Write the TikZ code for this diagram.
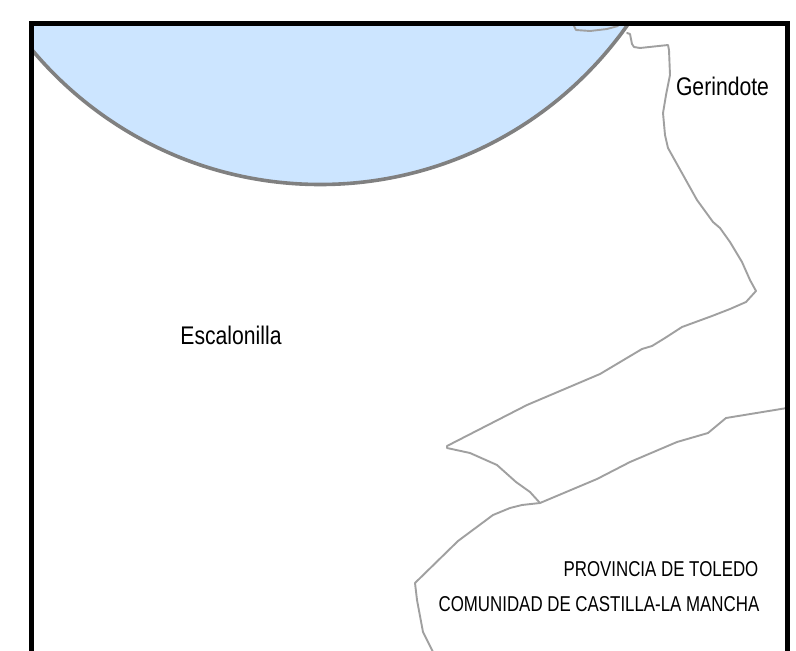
\documentclass[tikz,border=0pt]{standalone}
\usepackage{fontspec}
\setmainfont{Liberation Sans}
\definecolor{lake}{HTML}{CCE5FF}
\definecolor{lakeedge}{HTML}{808080}
\definecolor{limit}{HTML}{A0A0A0}
\tikzset{
  limitline/.style={draw=limit,line width=1.9pt,line join=round,line cap=round},
  lakeline/.style={draw=lakeedge,fill=lake,line width=3.6pt},
  framebar/.style={draw=black,line width=5pt},
  placelabel/.style={inner sep=0pt,text=black,font=\fontsize{25.5}{25.5}\selectfont,xscale=0.83},
  admlabel/.style={inner sep=0pt,text=black,font=\fontsize{21.5}{21.5}\selectfont,xscale=0.785,anchor=east}
}
\begin{document}
\begin{tikzpicture}[x=1pt,y=-1pt]
\useasboundingbox (0,0) rectangle (796,651);
\fill[white] (0,0) rectangle (796,651);
\begin{scope}
\clip (31,24) rectangle (787,651);
\draw[lakeline] (320.2,-191.2) circle [radius=375.7];
\draw[limitline] (574,26) -- (576,30) -- (590,31) -- (607,29) -- (618,26);
\draw[limitline] (627,33) -- (630,34) -- (632,44) -- (634,47) -- (640,48) -- (668,45) -- (669,50) -- (670,75) -- (666,95) -- (663,113) -- (665,135) -- (668,148) -- (697,200) -- (713,222) -- (720,228) -- (730,242) -- (742,262) -- (750,280) -- (756,291) -- (746,302) -- (730,309) -- (712,316) -- (682,327) -- (665,338) -- (652,346) -- (642,349) -- (600,374) -- (527,405) -- (447,446) -- (447,448) -- (470,453) -- (497,465) -- (516,482) -- (530,492) -- (540,503);
\draw[limitline] (787,408) -- (726,418) -- (708,433) -- (677,442) -- (630,462) -- (597,479) -- (540,503) -- (522,505) -- (510,508) -- (493,515) -- (458,541) -- (415,583) -- (417,600) -- (423,632) -- (433,652);
\end{scope}
\draw[framebar] (31,653) -- (31,23.5) -- (787.5,23.5) -- (787.5,653);
\node[placelabel] (gerindote) at (722.5,86) {Gerindote};
\node[placelabel] (escalonilla) at (231,335) {Escalonilla};
\node[admlabel] (provincia) at (758.5,569.5) {PROVINCIA DE TOLEDO};
\node[admlabel] (comunidad) at (759.5,604) {COMUNIDAD DE CASTILLA-LA MANCHA};
\end{tikzpicture}
\end{document}
